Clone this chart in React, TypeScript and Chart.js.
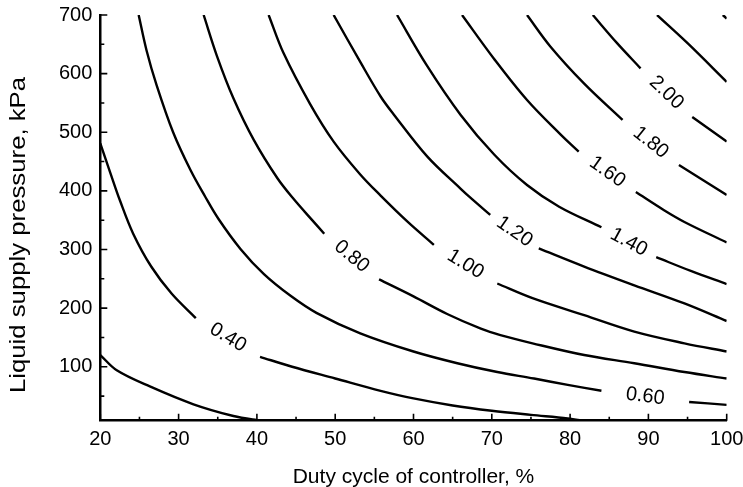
import React, { useEffect, useRef } from "react";
import { Chart, registerables } from "chart.js";

Chart.register(...registerables);

// ---- axis ranges and ticks ----
const X_MIN = 20;
const X_MAX = 100;
const Y_MIN = 8;
const Y_MAX = 700;
const X_MAJOR = [20, 30, 40, 50, 60, 70, 80, 90, 100];
const X_MINOR = [25, 35, 45, 55, 65, 75, 85, 95];
const Y_MAJOR = [100, 200, 300, 400, 500, 600, 700];
const Y_MINOR = [50, 150, 250, 350, 450, 550, 650];

// ---- contour lines: [duty %, pressure kPa]; null = gap where the label sits ----
type Pt = [number, number] | null;
const C020: Pt[] = [[20, 120], [22.1, 94], [26.4, 66], [31.9, 36], [37, 16], [40, 9], [41.5, 7]];
const C040: Pt[] = [[20, 481], [21.3, 430], [22.5, 384], [24.2, 327], [26.5, 271], [29.1, 225], [32.2, 183], null, [40.4, 117], [44.5, 100], [50, 80], [55.8, 59], [60, 46], [65, 34], [70, 25], [75, 18], [79.7, 12], [82, 7]];
const C060: Pt[] = [[24.9, 700], [25.9, 640], [27.2, 580], [29.3, 500], [31.5, 436], [33.4, 390], [35.1, 352], [37.9, 301], [40.9, 258], [44.3, 221], [47.6, 192], [53.2, 157], [60, 126], [65.6, 106], [70.7, 91], [75.4, 80], [79.7, 69], [84, 59], null, [95.2, 40], [100, 35]];
const C080: Pt[] = [[33.2, 700], [34.9, 630], [37, 558], [39.6, 487], [42.6, 422], [44.7, 386], [47, 351], [48.6, 327], null, [55.6, 249], [60, 220], [64.3, 190], [68.6, 165], [71.1, 154], [75.2, 140], [81.8, 120], [88.2, 106], [94.6, 91], [100, 80]];
const C100: Pt[] = [[41.5, 700], [43.4, 635], [46.8, 548], [49.8, 484], [53.2, 428], [55.8, 392], [59.2, 348], [62.6, 308], null, [70.7, 242], [75.2, 217], [81.8, 188], [88.2, 160], [94.6, 140], [100, 126]];
const C120: Pt[] = [[49.8, 700], [53.2, 620], [55.8, 561], [57.5, 530], [61.8, 458], [66, 404], [67.3, 388], [69.8, 359], null, [76, 302], [81.8, 271], [88.2, 239], [94.6, 208], [100, 178]];
const C140: Pt[] = [[57.9, 700], [61.7, 614], [66, 530], [70.3, 462], [74.5, 410], [78.6, 373], [84, 338], null, [91, 287], [95.5, 263], [100, 241]];
const C160: Pt[] = [[66.2, 700], [70.3, 625], [74.5, 555], [78.8, 496], [81.1, 467], null, [88.4, 398], [92, 367], [94.6, 347], [100, 312]];
const C180: Pt[] = [[74.5, 700], [77.5, 646], [81.8, 583], [86.7, 521], null, [93.9, 444], [100, 393]];
const C200: Pt[] = [[82.9, 700], [86, 652], [89, 609], null, [95.6, 526], [100, 484]];
const C220: Pt[] = [[91.1, 700], [95, 652], [100, 586]];
const C240: Pt[] = [[99.5, 700], [100, 694]];

const SERIES: Pt[][] = [C020, C040, C060, C080, C100, C120, C140, C160, C180, C200, C220, C240];
const LABELS = ["", "0.40", "0.60", "0.80", "1.00", "1.20", "1.40", "1.60", "1.80", "2.00", "", ""];

const X_TITLE = "Duty cycle of controller, %";
const Y_TITLE = "Liquid supply pressure, kPa";

const FONT = '"Liberation Sans", Arial, Helvetica, sans-serif';

function toData(s: Pt[]) {
  return s.map((p, i) => {
    if (p === null) {
      const a = s[i - 1] as [number, number];
      const b = s[i + 1] as [number, number];
      return { x: (a[0] + b[0]) / 2, y: null as any };
    }
    return { x: p[0], y: p[1] };
  });
}

const inwardTicks = {
  id: "inwardTicks",
  afterDraw(chart: any) {
    const { ctx, chartArea } = chart;
    const xs = chart.scales.x;
    const ys = chart.scales.y;
    ctx.save();
    ctx.strokeStyle = "#000";
    ctx.lineWidth = 1.6;
    ctx.beginPath();
    const xt = (v: number, len: number) => {
      const px = xs.getPixelForValue(v);
      ctx.moveTo(px, chartArea.bottom);
      ctx.lineTo(px, chartArea.bottom - len);
    };
    const yt = (v: number, len: number) => {
      const py = ys.getPixelForValue(v);
      ctx.moveTo(chartArea.left, py);
      ctx.lineTo(chartArea.left + len, py);
    };
    X_MAJOR.forEach((v) => xt(v, 7));
    X_MINOR.forEach((v) => xt(v, 4));
    Y_MAJOR.forEach((v) => yt(v, 7));
    Y_MINOR.forEach((v) => yt(v, 4));
    ctx.stroke();

    // y axis title (rotated, slightly stretched along its length like the original)
    ctx.translate(18.5, 235);
    ctx.rotate(-Math.PI / 2);
    ctx.scale(1.17, 1);
    ctx.font = `22px ${FONT}`;
    ctx.fillStyle = "#000";
    ctx.textAlign = "center";
    ctx.textBaseline = "middle";
    ctx.fillText(Y_TITLE, 0, 0);
    ctx.restore();
  },
};

const contourLabels = {
  id: "contourLabels",
  afterDatasetsDraw(chart: any) {
    const { ctx } = chart;
    const xs = chart.scales.x;
    const ys = chart.scales.y;
    chart.data.datasets.forEach((ds: any, i: number) => {
      const text = LABELS[i];
      if (!text) return;
      const data = ds.data as { x: number; y: number | null }[];
      const gi = data.findIndex((d) => d.y === null);
      if (gi < 1) return;
      const a = data[gi - 1];
      const b = data[gi + 1];
      const x1 = xs.getPixelForValue(a.x);
      const y1 = ys.getPixelForValue(a.y as number);
      const x2 = xs.getPixelForValue(b.x);
      const y2 = ys.getPixelForValue(b.y as number);
      const ang = Math.atan2(y2 - y1, x2 - x1);
      ctx.save();
      ctx.translate((x1 + x2) / 2, (y1 + y2) / 2);
      ctx.rotate(ang);
      ctx.font = `20px ${FONT}`;
      ctx.fillStyle = "#000";
      ctx.textAlign = "center";
      ctx.textBaseline = "middle";
      ctx.fillText(text, 0, 0);
      ctx.restore();
    });
  },
};

export default function App() {
  const ref = useRef<HTMLCanvasElement | null>(null);

  useEffect(() => {
    document.body.style.margin = "0";
    const canvas = ref.current;
    if (!canvas) return;
    const chart = new Chart(canvas, {
      type: "line",
      data: {
        datasets: SERIES.map((s, i) => ({
          label: LABELS[i] || `c${i}`,
          data: toData(s),
          borderColor: "#000",
          borderWidth: 2.4,
          pointRadius: 0,
          fill: false,
          spanGaps: false,
          tension: 0.35,
        })),
      },
      options: {
        responsive: false,
        animation: false,
        events: [],
        layout: { padding: { left: 0, right: 16.3, top: 15, bottom: 0 } },
        plugins: {
          legend: { display: false },
          tooltip: { enabled: false },
        },
        scales: {
          x: {
            type: "linear",
            min: X_MIN,
            max: X_MAX,
            afterBuildTicks: (s: any) => {
              s.ticks = X_MAJOR.map((v) => ({ value: v }));
            },
            afterFit: (s: any) => {
              s.height = 66.3;
              s.paddingLeft = 0;
              s.paddingRight = 0;
            },
            grid: { display: true, drawOnChartArea: false, drawTicks: false },
            border: { display: true, color: "#000", width: 2.5 },
            ticks: {
              color: "#000",
              font: { family: FONT, size: 20 },
              padding: 7,
              autoSkip: false,
              maxRotation: 0,
            },
            title: {
              display: true,
              text: X_TITLE,
              color: "#000",
              font: { family: FONT, size: 21, lineHeight: 0.9 },
              padding: { top: 0, bottom: 0 },
            },
          },
          y: {
            type: "linear",
            min: Y_MIN,
            max: Y_MAX,
            afterBuildTicks: (s: any) => {
              s.ticks = Y_MAJOR.map((v) => ({ value: v }));
            },
            afterFit: (s: any) => {
              s.width = 100.3;
              s.paddingTop = 0;
              s.paddingBottom = 0;
            },
            grid: { display: true, drawOnChartArea: false, drawTicks: false },
            border: { display: true, color: "#000", width: 2.5 },
            ticks: {
              color: "#000",
              font: { family: FONT, size: 20 },
              padding: 8,
            },
            title: { display: false },
          },
        },
      },
      plugins: [inwardTicks, contourLabels],
    });
    return () => chart.destroy();
  }, []);

  return (
    <div style={{ width: 743, height: 487, position: "relative", background: "#fff" }}>
      <canvas ref={ref} width={743} height={487} style={{ display: "block" }} />
    </div>
  );
}
